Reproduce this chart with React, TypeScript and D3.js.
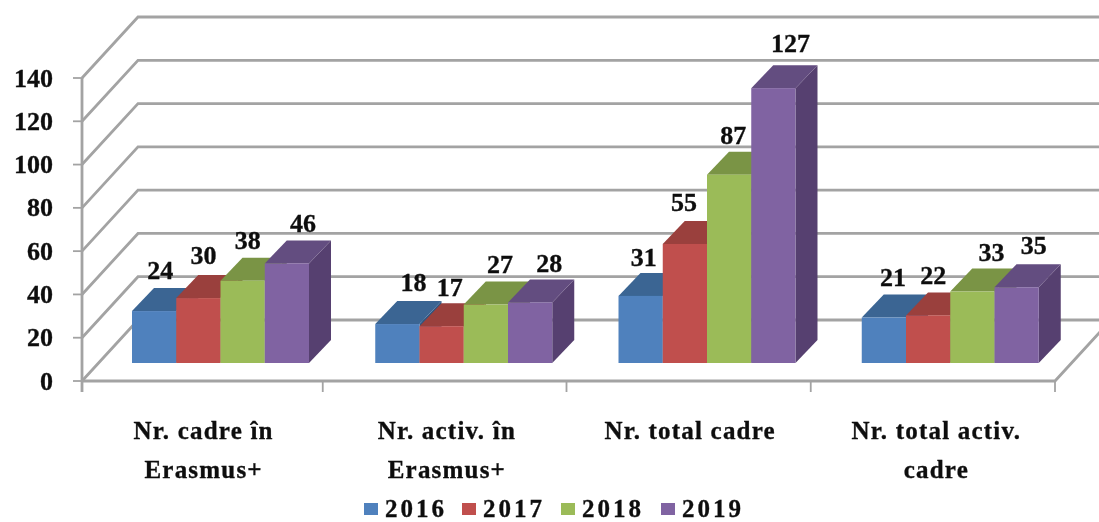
import React from "react";
import * as d3 from "d3";

const categories = [["Nr. cadre în", "Erasmus+"], ["Nr. activ. în", "Erasmus+"], ["Nr. total cadre"], ["Nr. total activ.", "cadre"]];
const years = ["2016", "2017", "2018", "2019"];
const values2016 = [24, 18, 31, 21];
const values2017 = [30, 17, 55, 22];
const values2018 = [38, 27, 87, 33];
const values2019 = [46, 28, 127, 35];
const seriesValues = [values2016, values2017, values2018, values2019];
const yTicks = [0, 20, 40, 60, 80, 100, 120, 140];

const frontColors = ["#4F81BD", "#C0504D", "#9BBB59", "#8064A2"];
const topColors = ["#3A6593", "#9A3F3C", "#7A9444", "#644D80"];
const sideColors = ["#2F5580", "#823533", "#67803A", "#56406F"];
const gridColor = "#a3a3a3";
const font = "'Liberation Serif', 'Times New Roman', serif";

// hand-read label offsets (dx, dy) from the default spot above each bar, by series then category
const nudgeX = [[6, 16, 3, 9], [5, 8, -1, 5], [5, 14, 4, 19], [16, 19, 17, 17]];
const nudgeY = [[-1, -2, 1, -1], [-3, 1, -2, 0], [-1, -1, 0, 0], [0, 1, -5, -2]];
const tickNudge = [0, -2.5, -2, -1, 0];
const legendX = [364, 462, 561, 661];

const W = 1099, H = 522;
const x0 = 82, x1 = 1055, yBottom = 381, yTop = 78;
const backDx = 56, backDy = -61;
const depthX = 22, depthY = -23;
const barBaseLift = 18, groupInset = 50, groupWidth = 177;

const xGroup = d3.scaleBand<number>().domain(d3.range(categories.length)).range([x0, x1]);
const xSeries = d3.scaleBand<number>().domain(d3.range(years.length)).range([0, groupWidth]);
const y = d3.scaleLinear().domain([0, 140]).range([yBottom, yTop]);
const poly = d3.line();

export default function App() {
  const groupTicks = [...xGroup.domain().map((d) => xGroup(d)!), x1];
  return (
    <svg width={W} height={H} viewBox={`0 0 ${W} ${H}`} style={{ position: "absolute", left: 0, top: 0, background: "#fff" }} fontFamily={font} fontWeight="bold">
      <defs>
        <filter id="soft" x="-5%" y="-5%" width="110%" height="110%">
          <feGaussianBlur stdDeviation="0.45" />
        </filter>
      </defs>
      <g filter="url(#soft)">
        <g fill="none" stroke={gridColor} strokeWidth={2.8}>
          <line x1={x0} x2={x0} y1={yTop} y2={yBottom + 11} />
          {yTicks.map((t) => (
            <g key={t}>
              <line x1={x0 - 9} x2={x0} y1={y(t)} y2={y(t)} strokeWidth={1.8} />
              <path d={poly([[x0, y(t)], [x0 + backDx, y(t) + backDy], [W + 5, y(t) + backDy]])!} />
            </g>
          ))}
          <path d={poly([[x0, yBottom], [x1, yBottom], [x1 + backDx, yBottom + backDy]])!} />
          {groupTicks.map((t, i) => (
            <line key={t} x1={t + tickNudge[i]} x2={t + tickNudge[i]} y1={yBottom} y2={yBottom + 11} strokeWidth={1.8} />
          ))}
        </g>

        {categories.map((_, c) =>
          years.map((_, s) => {
            const v = seriesValues[s][c];
            const left = xGroup(c)! + groupInset + xSeries(s)!;
            const right = left + xSeries.bandwidth();
            const base = y(0) - barBaseLift;
            const top = base - (y(0) - y(v));
            return (
              <g key={`${c}-${s}`}>
                <path fill={sideColors[s]} d={poly([[right, base], [right + depthX, base + depthY], [right + depthX, top + depthY], [right, top]])! + "Z"} />
                <path fill={topColors[s]} d={poly([[left, top], [left + depthX, top + depthY], [right + depthX, top + depthY], [right, top]])! + "Z"} />
                <rect fill={frontColors[s]} x={left} y={top} width={xSeries.bandwidth()} height={base - top} />
              </g>
            );
          })
        )}

        <g fill="#111" stroke="#111" strokeWidth={0.35}>
          {categories.map((_, c) =>
            years.map((_, s) => {
              const v = seriesValues[s][c];
              const left = xGroup(c)! + groupInset + xSeries(s)!;
              const top = y(0) - barBaseLift - (y(0) - y(v));
              return (
                <text key={`${c}-${s}`} x={left + xSeries.bandwidth() / 2 + nudgeX[s][c]} y={top + depthY - 8 + nudgeY[s][c]} textAnchor="middle" fontSize={26}>
                  {v}
                </text>
              );
            })
          )}

          {yTicks.map((t) => (
            <text key={t} x={53} y={y(t) + 8.5} textAnchor="end" fontSize={26}>
              {t}
            </text>
          ))}

          {categories.map((lines, c) =>
            lines.map((l, i) => (
              <text key={l} x={xGroup(c)! + xGroup.bandwidth() / 2 + (c === 3 ? 3 : 0)} y={439 + i * 39} textAnchor="middle" fontSize={25} letterSpacing={1.2}>
                {l}
              </text>
            ))
          )}

          {years.map((yr, s) => (
            <g key={yr}>
              <rect x={legendX[s]} y={503} width={14} height={12} fill={frontColors[s]} stroke="none" />
              <text x={legendX[s] + 21} y={516.5} fontSize={25} letterSpacing={3}>
                {yr}
              </text>
            </g>
          ))}
        </g>
      </g>
    </svg>
  );
}
